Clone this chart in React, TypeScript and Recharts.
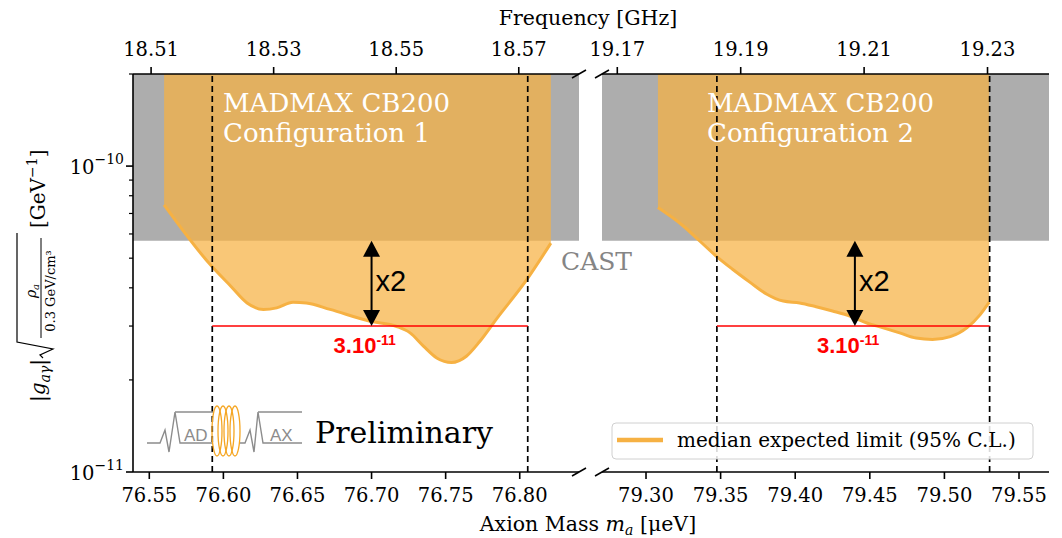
import React from 'react';
import {
  ComposedChart,
  Area,
  Line,
  XAxis,
  YAxis,
  ReferenceArea,
  ReferenceLine,
} from 'recharts';

// Planck constant expressed in µeV per GHz (m_a = h * f)
const H_UEV_PER_GHZ = 4.135667696;

// Configuration 1: axion mass [µeV] and median expected limit [1e-11 GeV^-1]
const massConfig1 = [
  76.560, 76.592, 76.605, 76.616, 76.627, 76.636, 76.647, 76.656, 76.672, 76.699,
  76.717, 76.726, 76.735, 76.744, 76.754, 76.764, 76.773, 76.784, 76.805, 76.821,
];
const limitConfig1 = [
  7.47, 4.71, 4.05, 3.57, 3.40, 3.44, 3.59, 3.57, 3.40, 3.11,
  2.99, 2.85, 2.58, 2.36, 2.28, 2.39, 2.67, 3.15, 4.27, 5.60,
];

// Configuration 2
const massConfig2 = [
  79.308, 79.325, 79.336, 79.347, 79.358, 79.370, 79.381, 79.392, 79.403, 79.414,
  79.425, 79.437, 79.448, 79.459, 79.470, 79.481, 79.492, 79.504, 79.515, 79.524, 79.530,
];
const limitConfig2 = [
  7.32, 6.37, 5.69, 5.08, 4.60, 4.16, 3.81, 3.62, 3.57, 3.47,
  3.36, 3.23, 3.07, 2.96, 2.85, 2.74, 2.71, 2.77, 2.96, 3.27, 3.59,
];

const massDomain1 = [76.539, 76.84];
const massDomain2 = [79.2705, 79.5701];
const massTicks1 = [76.55, 76.6, 76.65, 76.7, 76.75, 76.8];
const massTicks2 = [79.3, 79.35, 79.4, 79.45, 79.5, 79.55];
const freqTicks1 = [18.51, 18.53, 18.55, 18.57];
const freqTicks2 = [19.17, 19.19, 19.21, 19.23];

const couplingDomain = [1e-11, 2e-10];
const couplingTicks = [1e-11, 2e-11, 3e-11, 4e-11, 5e-11, 6e-11, 7e-11, 8e-11, 9e-11, 1e-10, 2e-10];

const castLimit = 5.7e-11;
const targetSensitivity = 3e-11;
const scanWindow1 = [76.5925, 76.8054];
const scanWindow2 = [79.3475, 79.5303];
const arrowMass1 = 76.7;
const arrowMass2 = 79.44;

const SERIF = "'DejaVu Serif', serif";
const SANS = "'Liberation Sans', Arial, sans-serif";
const LIMIT_COLOR = '#F6B143';
const W = 1062;
const HGT = 538;

const buildRows = (mass: number[], limit: number[]) =>
  mass.map((m, i) => ({
    mass: m,
    limit: limit[i] * 1e-11,
    band: [limit[i] * 1e-11, couplingDomain[1]],
  }));

const rows1 = buildRows(massConfig1, limitConfig1);
const rows2 = buildRows(massConfig2, limitConfig2);

const axisStroke = { stroke: '#000', strokeWidth: 1.6 };
const tickText = { fill: '#000', fontSize: 19.5, fontFamily: SERIF };

const CouplingTick = (props: any) => {
  const { x, y, payload } = props;
  const lv = Math.log10(payload.value);
  const exp = Math.round(lv);
  const major = Math.abs(lv - exp) < 1e-6;
  return (
    <g>
      <line
        x1={x - (major ? 7 : 4)}
        x2={x}
        y1={y}
        y2={y}
        stroke="#000"
        strokeWidth={major ? 1.6 : 1.2}
      />
      {major && (
        <text x={x - 9} y={y + 7.5} textAnchor="end" fontFamily={SERIF} fontSize={19.5} fill="#000">
          10
          <tspan fontSize={14} dy={-10}>
            {'\u2212' + Math.abs(exp)}
          </tspan>
        </text>
      )}
    </g>
  );
};

const SensitivityArrow = (props: any) => {
  const { x1, y1, y2 } = props;
  const x = x1;
  const yLow = Math.max(y1, y2);
  const yHigh = Math.min(y1, y2);
  const head = 16;
  const half = 8.5;
  return (
    <g>
      <line x1={x} x2={x} y1={yHigh + head - 1} y2={yLow - head + 1} stroke="#000" strokeWidth={2} />
      <polygon points={`${x},${yHigh} ${x - half},${yHigh + head} ${x + half},${yHigh + head}`} fill="#000" />
      <polygon points={`${x},${yLow} ${x - half},${yLow - head} ${x + half},${yLow - head}`} fill="#000" />
      <text x={x + 4} y={(yHigh + yLow) / 2 + 8} fontFamily={SANS} fontSize={29} fill="#000">
        x2
      </text>
      <text x={x - 38} y={yLow + 27} fontFamily={SANS} fontSize={22} fontWeight="bold" fill="#ff0000">
        3.10
        <tspan fontSize={14} dy={-8}>
          -11
        </tspan>
      </text>
    </g>
  );
};

type PanelProps = {
  rows: any[];
  domain: number[];
  massTicks: number[];
  freqTicks: number[];
  window: number[];
  arrowMass: number;
  margin: { top: number; right: number; bottom: number; left: number };
  side: 'left' | 'right';
};

const Panel = ({ rows, domain, massTicks, freqTicks, window, arrowMass, margin, side }: PanelProps) => (
  <div style={{ position: 'absolute', left: 0, top: 0 }}>
    <ComposedChart width={W} height={HGT} data={rows} margin={margin}>
      <XAxis
        dataKey="mass"
        type="number"
        domain={domain}
        ticks={massTicks}
        interval={0}
        allowDataOverflow
        height={40}
        tickSize={7}
        tickMargin={9}
        axisLine={axisStroke}
        tickLine={axisStroke}
        tick={tickText}
        tickFormatter={(v: number) => v.toFixed(2)}
      />
      <XAxis
        xAxisId="freq"
        dataKey="mass"
        orientation="top"
        type="number"
        domain={domain}
        ticks={freqTicks.map((f) => f * H_UEV_PER_GHZ)}
        interval={0}
        allowDataOverflow
        height={40}
        tickSize={7}
        tickMargin={11}
        axisLine={axisStroke}
        tickLine={axisStroke}
        tick={tickText}
        tickFormatter={(v: number) => (v / H_UEV_PER_GHZ).toFixed(2)}
      />
      {side === 'left' ? (
        <YAxis
          type="number"
          scale="log"
          domain={couplingDomain}
          ticks={couplingTicks}
          interval={0}
          allowDataOverflow
          width={133}
          tickSize={0}
          tickMargin={0}
          tickLine={false}
          axisLine={axisStroke}
          tick={<CouplingTick />}
        />
      ) : (
        <YAxis
          type="number"
          scale="log"
          orientation="right"
          domain={couplingDomain}
          allowDataOverflow
          width={0}
          tick={false}
          tickLine={false}
          axisLine={axisStroke}
        />
      )}
      <ReferenceArea y1={castLimit} y2={couplingDomain[1]} fill="#ADADAD" fillOpacity={1} stroke="none" ifOverflow="hidden" />
      <Area
        dataKey="band"
        type="monotone"
        fill={LIMIT_COLOR}
        fillOpacity={0.72}
        stroke="none"
        isAnimationActive={false}
      />
      <Line
        dataKey="limit"
        type="monotone"
        stroke={LIMIT_COLOR}
        strokeWidth={3}
        dot={false}
        isAnimationActive={false}
      />
      {/* frequency scale shares the same rows; this series only binds the top axis */}
      <Line
        xAxisId="freq"
        dataKey="limit"
        stroke="none"
        dot={false}
        activeDot={false}
        legendType="none"
        isAnimationActive={false}
      />
      <ReferenceLine x={window[0]} stroke="#000" strokeWidth={1.7} strokeDasharray="6 4" />
      <ReferenceLine x={window[1]} stroke="#000" strokeWidth={1.7} strokeDasharray="6 4" />
      <ReferenceLine
        segment={[
          { x: window[0], y: targetSensitivity },
          { x: window[1], y: targetSensitivity },
        ]}
        stroke="#ff0000"
        strokeWidth={1.6}
      />
      <ReferenceLine
        segment={[
          { x: arrowMass, y: targetSensitivity },
          { x: arrowMass, y: castLimit },
        ]}
        shape={(p: any) => <SensitivityArrow {...p} />}
      />
    </ComposedChart>
  </div>
);

const BreakMark = ({ x, y }: { x: number; y: number }) => (
  <line x1={x - 7} y1={y + 4} x2={x + 7} y2={y - 4} stroke="#000" strokeWidth={1.6} />
);

const MadmaxLogo = () => {
  const gray = '#8c8c8c';
  const orange = '#F5A623';
  return (
    <g>
      <polyline
        points="147,443 160,443 165,430 169,452 175,412 180,443 213,443"
        fill="none"
        stroke={gray}
        strokeWidth={1.4}
      />
      <line x1={175} y1={412} x2={213} y2={412} stroke={gray} strokeWidth={1.4} />
      <text x={184} y={441} fontFamily={SANS} fontSize={17} fill={gray}>
        AD
      </text>
      {[217, 223, 229, 235].map((cx) => (
        <ellipse key={cx} cx={cx} cy={431} rx={5} ry={25} fill="none" stroke={orange} strokeWidth={1.3} />
      ))}
      <polyline
        points="240,443 245,443 250,430 254,452 258,412 263,443 302,443"
        fill="none"
        stroke={gray}
        strokeWidth={1.4}
      />
      <line x1={258} y1={412} x2={302} y2={412} stroke={gray} strokeWidth={1.4} />
      <text x={270} y={441} fontFamily={SANS} fontSize={17} fill={gray}>
        AX
      </text>
    </g>
  );
};

const Overlay = () => (
  <svg
    width={W}
    height={HGT}
    style={{ position: 'absolute', left: 0, top: 0, pointerEvents: 'none' }}
  >
    <text x={588} y={25} textAnchor="middle" fontFamily={SERIF} fontSize={20.5} fill="#000">
      Frequency [GHz]
    </text>
    <text x={588} y={531} textAnchor="middle" fontFamily={SERIF} fontSize={20.5} fill="#000">
      Axion Mass <tspan fontStyle="italic">m</tspan>
      <tspan fontStyle="italic" fontSize={14} dy={4}>a</tspan>
      <tspan dy={-4}> [μeV]</tspan>
    </text>

    <g transform="translate(45,402) rotate(-90)" fontFamily={SERIF} fill="#000">
      <text x={0} y={0} fontSize={20}>
        |<tspan fontStyle="italic">g</tspan>
        <tspan fontStyle="italic" fontSize={14} dy={5}>aγ</tspan>
        <tspan dy={-5}>|</tspan>
      </text>
      <path d="M 44 -2 L 47 -5 L 53 8 L 60 -28 L 169 -28" fill="none" stroke="#000" strokeWidth={1.2} />
      <text x={111} y={-9} fontSize={14} textAnchor="middle" fontStyle="italic">
        ρ<tspan fontSize={10} dy={3}>a</tspan>
      </text>
      <line x1={64} x2={164} y1={-4} y2={-4} stroke="#000" strokeWidth={1} />
      <text x={111} y={10} fontSize={13} textAnchor="middle">
        0.3 GeV/cm³
      </text>
      <text x={174} y={0} fontSize={20}>
        [GeV<tspan fontSize={14} dy={-8}>{'\u22121'}</tspan>
        <tspan dy={8}>]</tspan>
      </text>
    </g>

    <BreakMark x={579} y={74} />
    <BreakMark x={579} y={472} />
    <BreakMark x={602} y={74} />
    <BreakMark x={602} y={472} />

    <g fontFamily={SERIF} fontSize={26} fill="#ffffff">
      <text x={223} y={112}>MADMAX CB200</text>
      <text x={223} y={142}>Configuration 1</text>
      <text x={707} y={112}>MADMAX CB200</text>
      <text x={707} y={142}>Configuration 2</text>
    </g>
    <text x={561} y={270} fontFamily={SERIF} fontSize={25} fill="#858585">
      CAST
    </text>

    <MadmaxLogo />
    <text x={315} y={443} fontFamily={SERIF} fontSize={30} fill="#000">
      Preliminary
    </text>

    <rect x={612} y={423} width={421} height={36} rx={4} fill="#ffffff" fillOpacity={0.85} stroke="#d0d0d0" strokeWidth={1} />
    <line x1={617} x2={663} y1={440} y2={440} stroke={LIMIT_COLOR} strokeWidth={4.5} />
    <text x={677} y={447} fontFamily={SERIF} fontSize={20} fill="#000">
      median expected limit (95% C.L.)
    </text>
  </svg>
);

export default function App() {
  return (
    <div style={{ position: 'absolute', left: 0, top: 0, width: W, height: HGT, background: '#ffffff' }}>
      <Panel
        rows={rows1}
        domain={massDomain1}
        massTicks={massTicks1}
        freqTicks={freqTicks1}
        window={scanWindow1}
        arrowMass={arrowMass1}
        margin={{ top: 34, right: W - 579, bottom: 26, left: 0 }}
        side="left"
      />
      <Panel
        rows={rows2}
        domain={massDomain2}
        massTicks={massTicks2}
        freqTicks={freqTicks2}
        window={scanWindow2}
        arrowMass={arrowMass2}
        margin={{ top: 34, right: W - 1049, bottom: 26, left: 602 }}
        side="right"
      />
      <Overlay />
    </div>
  );
}
